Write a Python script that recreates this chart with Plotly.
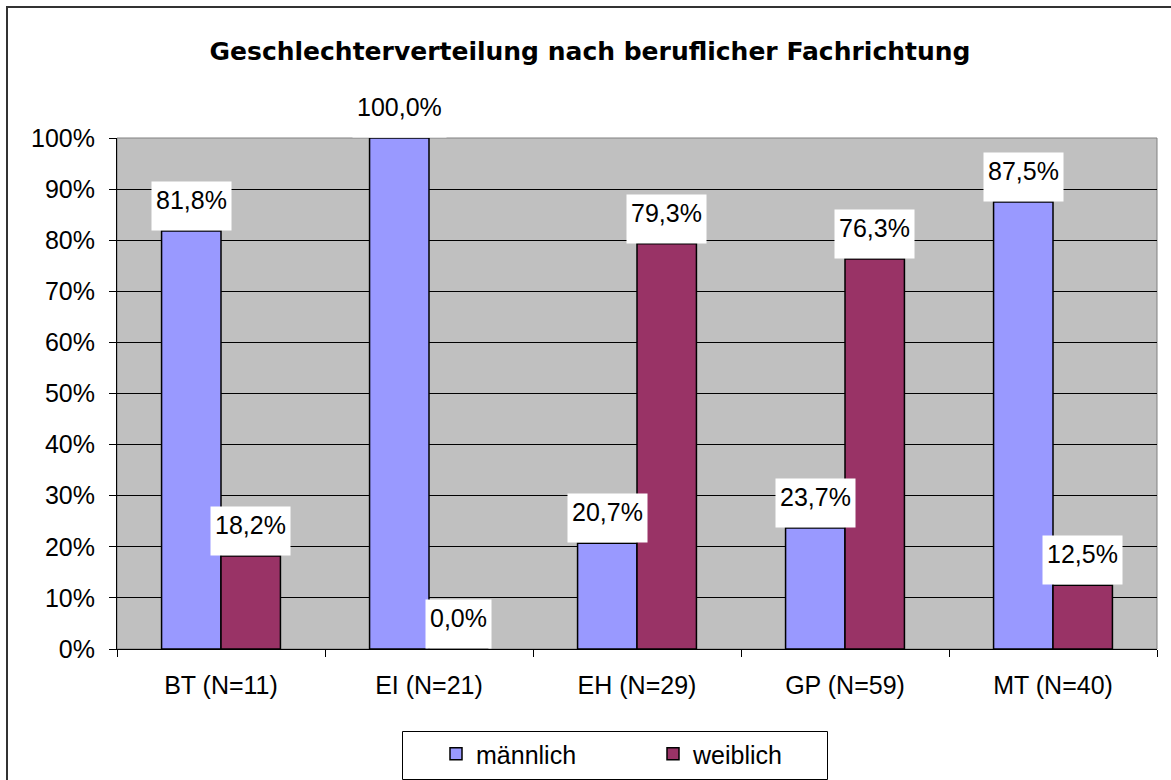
import plotly.graph_objects as go

categories = ["BT (N=11)", "EI (N=21)", "EH (N=29)", "GP (N=59)", "MT (N=40)"]
maennlich = [81.8, 100.0, 20.7, 23.7, 87.5]
weiblich = [18.2, 0.0, 79.3, 76.3, 12.5]
series_names = ["männlich", "weiblich"]
title_text = "Geschlechterverteilung nach beruflicher Fachrichtung"

FONT = "Liberation Sans, Arial, sans-serif"
TFONT = "DejaVu Sans, Liberation Sans, sans-serif"
FS = 25

fig = go.Figure()
fig.add_bar(x=categories, y=maennlich, name=series_names[0],
            marker=dict(color="#9999FF", line=dict(color="black", width=1.5)))
fig.add_bar(x=categories, y=weiblich, name=series_names[1],
            marker=dict(color="#993366", line=dict(color="black", width=1.5)))

def fmt(v):
    return f"{v:.1f}".replace(".", ",") + "%"

ann = []
off = 1 / 7
for i, c in enumerate(categories):
    for vals, d in ((maennlich, -off), (weiblich, off)):
        ann.append(dict(x=i + d, y=vals[i], xref="x", yref="y", text=fmt(vals[i]),
                        showarrow=False, yanchor="bottom", xanchor="center",
                        bgcolor="white", borderpad=4, height=40, valign="top", yshift=0,
                        font=dict(family=FONT, size=FS, color="black")))

# plot area in px: x 117..1157, y 138..649
PW, PH = 1040, 511
def px(xp):
    return (xp - 117) / PW
def py(yp):
    return (649 - yp) / PH

fig.update_layout(
    width=1171, height=780,
    margin=dict(l=117, r=14, t=138, b=131),
    paper_bgcolor="white", plot_bgcolor="#C0C0C0",
    barmode="group", bargap=0.4286, bargroupgap=0,
    font=dict(family=FONT, size=FS, color="black"),
    title=dict(text="<b>" + title_text + "</b>", x=590 / 1171, xref="container", xanchor="center",
               y=1 - 51 / 780, yanchor="middle",
               font=dict(family=TFONT, size=25, color="black")),
    showlegend=True,
    legend=dict(orientation="h", xref="container", x=436 / 1171, xanchor="left",
                yref="container", y=1 - 754 / 780, yanchor="middle",
                bgcolor="rgba(0,0,0,0)", borderwidth=0,
                entrywidth=172, font=dict(family=FONT, size=FS)),
    annotations=ann,
    shapes=[
        dict(type="rect", xref="paper", yref="paper", x0=0, x1=1, y0=0, y1=1,
             line=dict(color="#808080", width=1), layer="below"),
        dict(type="rect", xref="paper", yref="paper", x0=px(7), x1=px(1200), y0=py(800), y1=py(7),
             line=dict(color="#333333", width=2), layer="below"),
        dict(type="rect", xref="paper", yref="paper", x0=px(402.5), x1=px(827.5), y0=py(779.5), y1=py(731.5),
             line=dict(color="black", width=1), fillcolor="white", layer="below"),
    ],
)
fig.update_yaxes(range=[0, 100], dtick=10, ticksuffix="%", showgrid=True, gridcolor="black",
                 gridwidth=1, showline=True, linecolor="black", linewidth=1,
                 ticks="outside", ticklen=7, tickcolor="black", ticklabelstandoff=9,
                 zeroline=False, fixedrange=True)
fig.update_xaxes(showline=True, linecolor="black", linewidth=1, ticks="outside",
                 tickson="boundaries", ticklen=7, tickcolor="black", showgrid=False,
                 ticklabelstandoff=14, fixedrange=True)

fig.write_html("out.html", config={"displayModeBar": False},
               post_script="document.body.style.margin='0';document.body.style.overflow='hidden';")
